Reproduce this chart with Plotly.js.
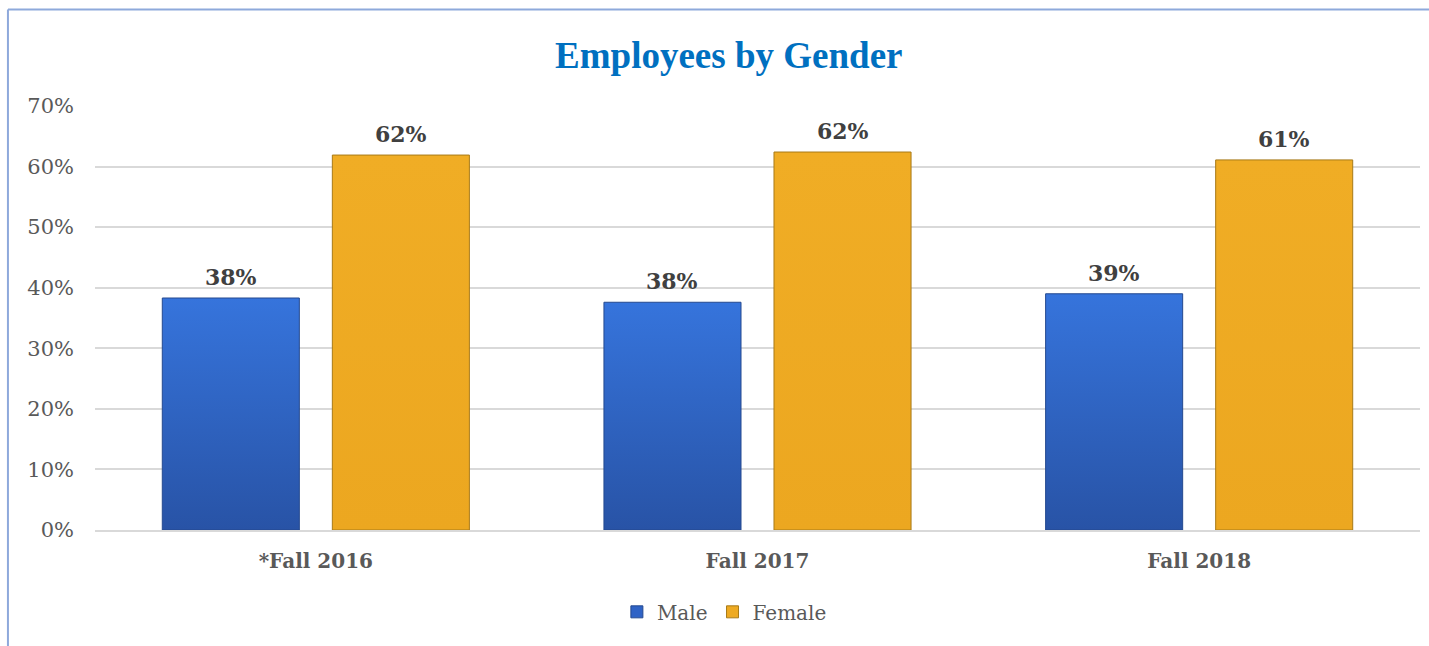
<!DOCTYPE html>
<html>
<head>
<meta charset="utf-8">
<script src="https://cdn.plot.ly/plotly-3.0.1.min.js"></script>
<style>
  html, body { margin: 0; padding: 0; background: #ffffff; }
  #chart { width: 1429px; height: 646px; }
</style>
</head>
<body>
<div id="chart"></div>
<script>
const categories = ["*Fall 2016", "Fall 2017", "Fall 2018"];
const maleValues = [0.383, 0.376, 0.390];
const femaleValues = [0.619, 0.624, 0.611];
const maleLabels = ["38%", "38%", "39%"];
const femaleLabels = ["62%", "62%", "61%"];
const yTickVals = [0, 0.1, 0.2, 0.3, 0.4, 0.5, 0.6, 0.7];
const yTickText = ["0%", "10%", "20%", "30%", "40%", "50%", "60%", "70%"];

const labelFont = { family: "DejaVu Serif", size: 22, color: "#404040", weight: "bold" };

const traces = [
  {
    type: "bar", name: "Male", x: categories, y: maleValues,
    marker: { color: "#2F63C6", line: { color: "#24498F", width: 1 } },
    hoverinfo: "x+y"
  },
  {
    type: "bar", name: "Female", x: categories, y: femaleValues,
    marker: { color: "#EEAA22", line: { color: "#A87A18", width: 1 } },
    hoverinfo: "x+y"
  }
];

// data labels positioned through the axes (category index offset within group)
const groupOffset = 0.1925; // half slot width in category units
const annotations = [];
categories.forEach(function (c, i) {
  annotations.push({
    xref: "x", yref: "y", x: i - groupOffset, y: maleValues[i], text: maleLabels[i],
    showarrow: false, yanchor: "bottom", yshift: 6, font: labelFont
  });
  annotations.push({
    xref: "x", yref: "y", x: i + groupOffset, y: femaleValues[i], text: femaleLabels[i],
    showarrow: false, yanchor: "bottom", yshift: 6, font: labelFont
  });
});

const layout = {
  width: 1429, height: 646,
  margin: { l: 95, r: 9, t: 106, b: 116 },
  paper_bgcolor: "#ffffff", plot_bgcolor: "#ffffff",
  title: {
    text: "<b>Employees by Gender</b>",
    font: { family: "Liberation Serif", size: 37, color: "#0070C0" },
    x: 0.51, xanchor: "center", y: 0.915, yanchor: "middle"
  },
  barmode: "group", bargap: 0.23, bargroupgap: 0.194,
  xaxis: {
    type: "category", range: [-0.5, 2.5],
    tickfont: { family: "DejaVu Serif", size: 20, color: "#595959", weight: "bold" },
    showline: true, linecolor: "#D9D9D9", linewidth: 2,
    ticks: "", ticklabelstandoff: 12, showgrid: false
  },
  yaxis: {
    range: [0, 0.7], tickvals: yTickVals, ticktext: yTickText,
    tickfont: { family: "DejaVu Serif", size: 21, color: "#595959" },
    showgrid: true, gridcolor: "#D9D9D9", gridwidth: 2,
    zeroline: false, showline: false, ticks: "", ticklabelstandoff: 20
  },
  showlegend: true,
  legend: {
    orientation: "h", x: 0.475, xanchor: "center", y: -0.193, yanchor: "middle",
    font: { family: "DejaVu Serif", size: 20, color: "#595959" },
    traceorder: "normal", itemwidth: 30
  },
  annotations: annotations,
  shapes: [
    { type: "line", xref: "paper", yref: "paper", x0: -0.0657, x1: 1.01, y0: 1.2276, y1: 1.2276,
      line: { color: "#8EA9DB", width: 2 } },
    { type: "line", xref: "paper", yref: "paper", x0: -0.0657, x1: -0.0657, y0: 1.2276, y1: -0.28,
      line: { color: "#8EA9DB", width: 2 } }
  ]
};

Plotly.newPlot("chart", traces, layout, { displayModeBar: false, staticPlot: true }).then(function (gd) {
  const svg = gd.querySelector("svg.main-svg");
  const ns = "http://www.w3.org/2000/svg";
  let defs = svg.querySelector("defs");
  function addGrad(id, stops) {
    const g = document.createElementNS(ns, "linearGradient");
    g.setAttribute("id", id);
    g.setAttribute("x1", "0"); g.setAttribute("y1", "0");
    g.setAttribute("x2", "0"); g.setAttribute("y2", "1");
    stops.forEach(function (s) {
      const st = document.createElementNS(ns, "stop");
      st.setAttribute("offset", s[0]);
      st.setAttribute("stop-color", s[1]);
      g.appendChild(st);
    });
    defs.appendChild(g);
  }
  addGrad("gradMale", [["0", "#3674DC"], ["1", "#2853A6"]]);
  addGrad("gradFemale", [["0", "#F0AD25"], ["1", "#ECA720"]]);
  const barTraces = gd.querySelectorAll(".barlayer .trace");
  barTraces.forEach(function (t, i) {
    t.querySelectorAll(".point path").forEach(function (p) {
      p.style.fill = i === 0 ? "url(#gradMale)" : "url(#gradFemale)";
    });
  });
});
</script>
</body>
</html>
